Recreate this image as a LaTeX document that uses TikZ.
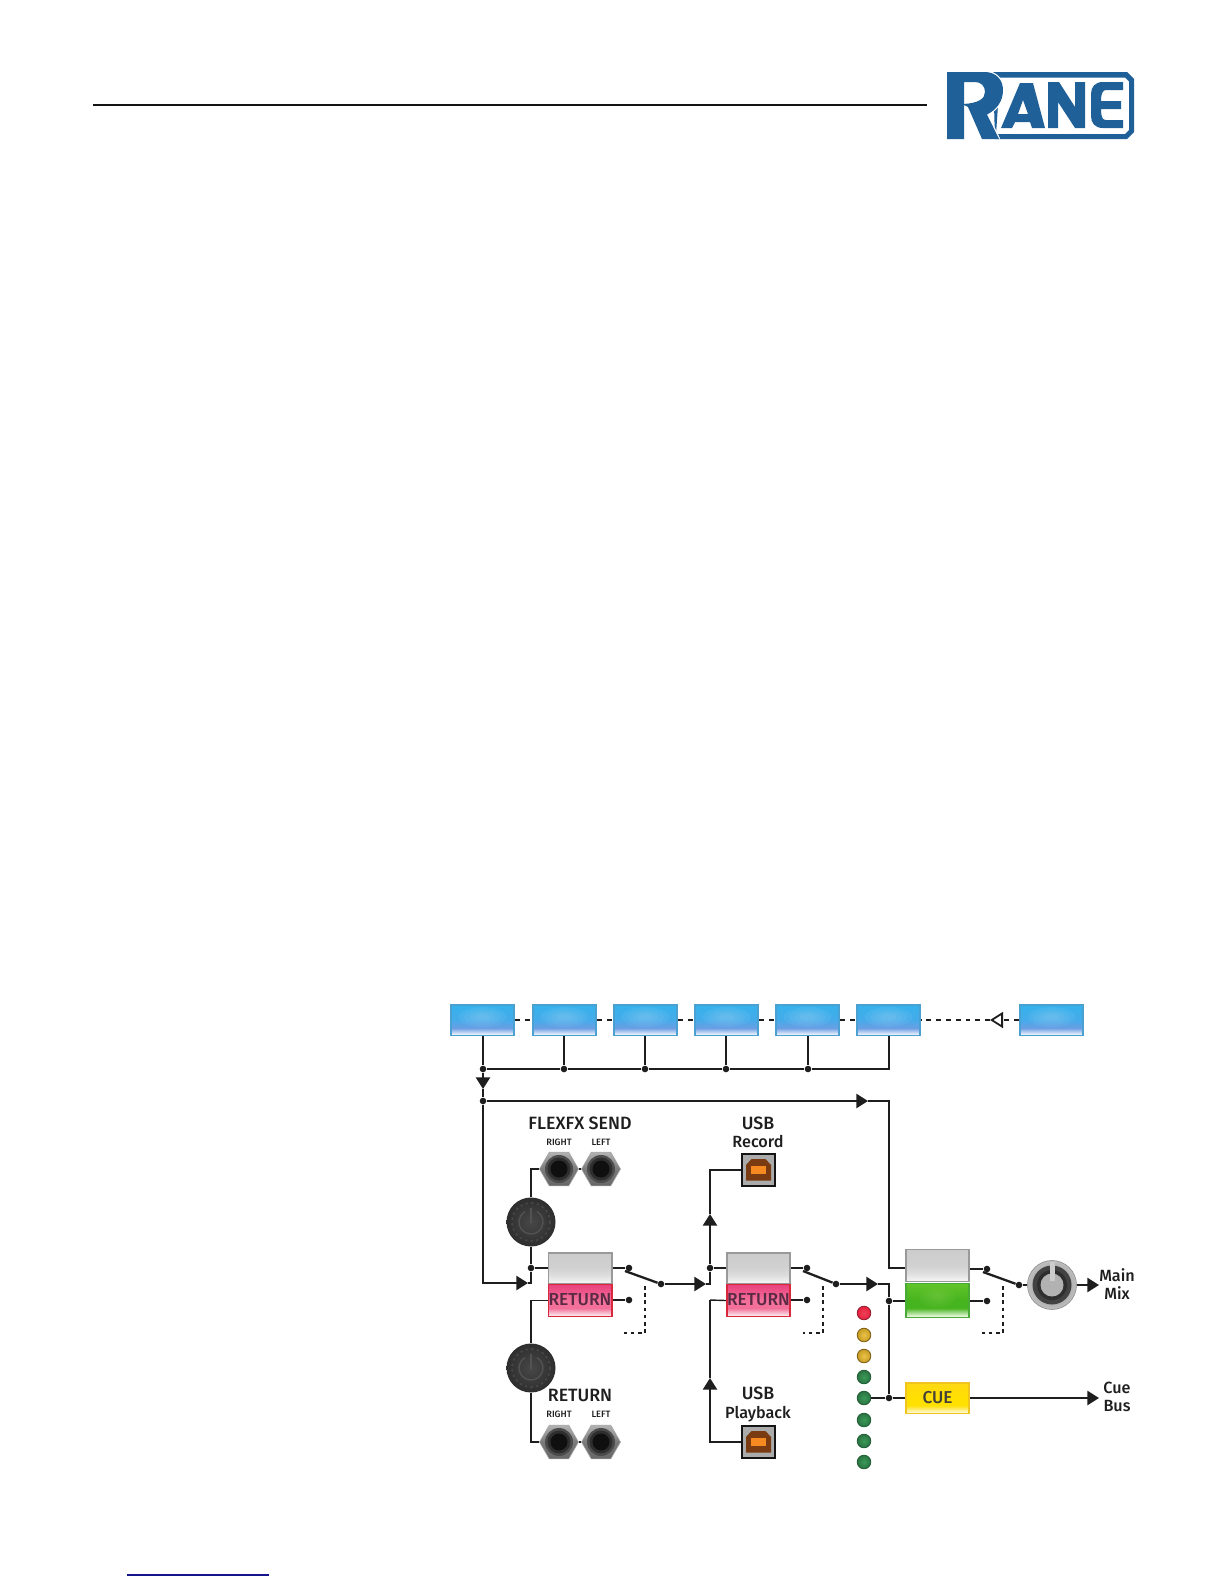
\documentclass[tikz,border=0pt]{standalone}
\usepackage{fontspec}
\setmainfont{Fira Sans Medium}
\usetikzlibrary{arrows.meta,shapes.geometric}
\definecolor{wirec}{HTML}{1E1E1E}
\definecolor{ranec}{HTML}{1F6098}
\definecolor{lnk}{HTML}{14148C}
\definecolor{bluet}{HTML}{35B2EC}\definecolor{bluem}{HTML}{45ABEA}\definecolor{bluel}{HTML}{6A9EE4}\definecolor{blueb}{HTML}{E8EEFA}\definecolor{blueedge}{HTML}{4BA0D2}
\pgfdeclareverticalshading{blueshade}{100bp}{color(0bp)=(blueb);color(27bp)=(blueb);color(37bp)=(bluel);color(50bp)=(bluem);color(75bp)=(bluet);color(100bp)=(bluet)}
\pgfdeclareverticalshading{grayshade}{100bp}{color(0bp)=(white);color(26bp)=(white!96!black);color(38bp)=(black!13);color(50bp)=(black!18);color(75bp)=(black!20);color(100bp)=(black!20)}
\definecolor{pinkt}{HTML}{E9427E}\definecolor{pinkm}{HTML}{F2709A}\definecolor{pinkb}{HTML}{FBE4EA}
\pgfdeclareverticalshading{pinkshade}{100bp}{color(0bp)=(pinkb);color(27bp)=(pinkb);color(38bp)=(pinkm);color(50bp)=(pinkm);color(75bp)=(pinkt);color(100bp)=(pinkt)}
\definecolor{greent}{HTML}{62C42A}\definecolor{greenm}{HTML}{46B41E}\definecolor{greenb}{HTML}{E8F8DC}\definecolor{greenedge}{HTML}{4AAA38}
\pgfdeclareverticalshading{greenshade}{100bp}{color(0bp)=(greenb);color(27bp)=(greenb);color(39bp)=(greenm);color(50bp)=(greenm);color(75bp)=(greent);color(100bp)=(greent)}
\definecolor{yelt}{HTML}{FFD814}\definecolor{yelm}{HTML}{FFE000}\definecolor{yelb}{HTML}{FFF6D0}\definecolor{yeledge}{HTML}{F0C420}
\pgfdeclareverticalshading{yelshade}{100bp}{color(0bp)=(yelb);color(27bp)=(yelb);color(38bp)=(yelm);color(50bp)=(yelm);color(75bp)=(yelt);color(100bp)=(yelt)}
\definecolor{retc}{HTML}{5A2A44}\definecolor{pinkedge}{HTML}{D8283C}
\definecolor{brownc}{HTML}{7A3A12}\definecolor{orangec}{HTML}{F58A20}
\definecolor{redl}{HTML}{E8203C}\definecolor{redd}{HTML}{8E1A2C}
\definecolor{ambl}{HTML}{E8B828}\definecolor{ambd}{HTML}{7A5A14}
\definecolor{grnl}{HTML}{3A9A58}\definecolor{grnd}{HTML}{1E5A34}
\tikzset{
 wire/.style={draw=wirec,line width=1.15bp,line join=miter},
 thinw/.style={draw=wirec,line width=.7bp},
 ctl/.style={draw=wirec,line width=1bp,dash pattern=on 2.4bp off 2.5bp},
 ctlb/.style={draw=wirec,line width=.9bp,dash pattern=on 1.8bp off 1.8bp},
 arr/.style={-{Triangle[length=5.8bp,width=7bp]}},
 btn/.style={rectangle,inner sep=0pt,minimum width=31.6bp,minimum height=15.4bp,line width=.9bp},
 bluebtn/.style={btn,shade,shading=blueshade,draw=blueedge},
 graybtn/.style={btn,shade,shading=grayshade,draw=black!40},
 pinkbtn/.style={btn,shade,shading=pinkshade,draw=pinkedge,minimum height=16bp},
 greenbtn/.style={btn,shade,shading=greenshade,draw=greenedge,minimum height=17bp},
 cuebtn/.style={btn,shade,shading=yelshade,draw=yeledge},
 dot/.style={circle,fill=wirec,inner sep=0pt,minimum size=3.3bp},
 lab/.style={text=wirec,inner sep=0pt,font=\fontsize{8.9bp}{9.2bp}\selectfont,align=center},
 tiny/.style={text=wirec,inner sep=0pt,font=\fontsize{4.6bp}{5bp}\selectfont},
 hexjack/.style={regular polygon,regular polygon sides=6,inner sep=0pt,minimum size=19.5bp,top color=black!30,bottom color=black!60,middle color=black!52,draw=black!35,line width=.3bp},
 knobc/.style={circle,inner sep=0pt,minimum size=24.5bp,inner color=black!72,outer color=black!82},
 mknob/.style={circle,inner sep=0pt,minimum size=24.5bp,inner color=black!50,outer color=black!25,draw=black!45,line width=.3bp},
 ledc/.style={circle,inner sep=0pt,minimum size=6.8bp,line width=.4bp},
 ledred/.style={ledc,draw=redd,inner color=redl!85!white,outer color=redl},
 ledamb/.style={ledc,draw=ambd,inner color=ambl!85!white,outer color=ambl!85!black},
 ledgrn/.style={ledc,draw=grnd,inner color=grnl,outer color=grnl!75!black},
 usbc/.style={rectangle,inner sep=0pt,minimum width=16.4bp,minimum height=16.2bp,fill=black!33,draw=black!92,line width=.9bp},
}
\newcommand{\jackin}[1]{\fill[black!70] (#1.center) circle (14);\fill[black!82] (#1.center) circle (11.5);\fill[black!94] (#1.center) circle (8.5);}
\newcommand{\powicon}[1]{\draw[black!68,line width=.7bp] ([shift={(-60:12)}]#1.center) arc (-60:240:12);\draw[black!68,line width=.7bp] ([shift={(0,-14)}]#1.center) -- ([shift={(0,1)}]#1.center);\draw[black!72,line width=.8bp,dash pattern=on 1.2bp off 1.6bp] (#1.center) circle (19);}
\newcommand{\usbin}[1]{\fill[brownc] ([shift={(-12.5,10.5)}]#1.center) -- ([shift={(12.5,10.5)}]#1.center) -- ([shift={(12.5,-5)}]#1.center) -- ([shift={(7,-11)}]#1.center) -- ([shift={(-7,-11)}]#1.center) -- ([shift={(-12.5,-5)}]#1.center) -- cycle;\fill[orangec] ([shift={(-7.5,-4)}]#1.center) rectangle ([shift={(7.5,4)}]#1.center);}
\newcommand{\glow}[3][white]{\foreach \r in {1,.78,.55,.33}{\fill[#1,opacity=.05] ([yshift=1.5bp]#2.center) ellipse ({\r*#3} and {\r*10});}}
\newcommand{\lc}{\fontsize{8.1bp}{9.2bp}\selectfont}
\begin{document}
\begin{tikzpicture}[x=.5bp,y=-.5bp]
\useasboundingbox (0,0) rectangle (1224,1584);
\fill[white] (0,0) rectangle (1224,1584);
% header rule and link rule
\draw[black!92,line width=1bp] (93,104.5) -- (927,104.5);
\draw[lnk,line width=.7bp] (127,1575) -- (269,1575);
% logo
\fill[ranec,even odd rule] (993,72) -- (1127,72) -- (1134,79) -- (1134,132) -- (1127,139) -- (995,139) -- cycle
 (1000,77.5) -- (1125,77.5) -- (1129,81.5) -- (1129,130) -- (1125,134) -- (996,134) -- cycle;
\draw[white,line width=1.2bp] (985,72) .. controls (996,72) and (1003,80) .. (1003,90) .. controls (1003,102) and (996,110) .. (987,114.5) -- (999,139);
\fill[ranec,even odd rule] (947,72) -- (985,72) .. controls (996,72) and (1003,80) .. (1003,90) .. controls (1003,102) and (996,110) .. (987,114.5) -- (999,139) -- (982,139) -- (968,107) -- (964,105) -- (964,139) -- (947,139) -- cycle
 (964,82) -- (975,82) .. controls (981,82) and (985,86) .. (985,92) .. controls (985,99) and (978,103) .. (964,104) -- cycle;
\fill[ranec,even odd rule] (1001,128) -- (1012,128) -- (1015,122) -- (1030,122) -- (1032,128) -- (1045,128) -- (1033,83) -- (1020,83) -- cycle (1023,100) -- (1018,114) -- (1028,114) -- cycle;
\fill[ranec] (1048,82) -- (1059,82) -- (1075,107) -- (1075,82) -- (1085,82) -- (1085,128) -- (1075,128) -- (1058,102) -- (1058,128) -- (1048,128) -- cycle;
\fill[ranec] (1123,82) -- (1103,82) .. controls (1095,82) and (1091,87) .. (1091,94) -- (1091,116) .. controls (1091,123) and (1095,128) .. (1103,128) -- (1123,128) -- (1123,120) -- (1106,120) .. controls (1103,120) and (1101,118) .. (1101,109) -- (1121,109) -- (1121,101) -- (1101,101) .. controls (1101,93) and (1103,90) .. (1106,90) -- (1123,90) -- cycle;
% blue buttons
\node[bluebtn] (b1) at (482.5,1020) {};
\node[bluebtn] (b2) at (564.5,1020) {};
\node[bluebtn] (b3) at (645.5,1020) {};
\node[bluebtn] (b4) at (726.5,1020) {};
\node[bluebtn] (b5) at (807.5,1020) {};
\node[bluebtn] (b6) at (888.5,1020) {};
\node[bluebtn] (b7) at (1051.5,1020) {};
\foreach \b in {b1,b2,b3,b4,b5,b6,b7}{\glow{\b}{24}}
% channel buttons
\node[graybtn] (g1) at (580,1268) {};
\node[graybtn] (g2) at (758.5,1268) {};
\node[graybtn,minimum height=16bp] (g3) at (937.5,1265.5) {};
\node[pinkbtn] (r1) at (580,1300.5) {};
\node[pinkbtn] (r2) at (758.5,1300.5) {};
\node[greenbtn] (gr) at (937.5,1300.5) {};
\glow[yellow!50!green!50!white]{gr}{18}
\node[cuebtn] (cue) at (937.5,1398) {};
\node[text=retc,inner sep=0pt,font=\fontsize{8.7bp}{9bp}\selectfont] (r1t) at (580,1300) {RETURN};
\node[text=retc,inner sep=0pt,font=\fontsize{8.7bp}{9bp}\selectfont] (r2t) at (758.5,1300) {RETURN};
\node[text=black!85!yellow,inner sep=0pt,font=\fontsize{8.6bp}{9bp}\selectfont] (cuet) at (937.5,1397.5) {CUE};
% knobs
\node[knobc] (k1) at (531,1222) {};
\node[knobc] (k2) at (531,1368) {};
\powicon{k1}\powicon{k2}
\node[mknob] (k3) at (1052,1285) {};
\fill[black!74] (k3.center) circle (19.5);
\fill[black!82] (k3.center) circle (15);
\fill[black!30] (k3.center) circle (11.5);
\fill[black!20] (1049.5,1262) rectangle (1054.5,1281);
% jacks
\node[hexjack] (jr1) at (559,1169) {};
\node[hexjack] (jl1) at (601,1169) {};
\node[hexjack] (jr2) at (559,1442) {};
\node[hexjack] (jl2) at (601,1442) {};
\jackin{jr1}\jackin{jl1}\jackin{jr2}\jackin{jl2}
% usb
\node[usbc] (u1) at (758.5,1170) {};
\node[usbc] (u2) at (758.5,1442) {};
\usbin{u1}\usbin{u2}
% LEDs
\node[ledred] (l1) at (864,1313) {};
\node[ledamb] (l2) at (864,1335) {};
\node[ledamb] (l3) at (864,1356) {};
\node[ledgrn] (l4) at (864,1377) {};
\node[ledgrn] (l5) at (864,1398) {};
\node[ledgrn] (l6) at (864,1420) {};
\node[ledgrn] (l7) at (864,1441) {};
\node[ledgrn] (l8) at (864,1462) {};
% junctions
\node[dot] (j1) at (483,1069) {};
\node[dot] (j2) at (564,1069) {};
\node[dot] (j3) at (645,1069) {};
\node[dot] (j4) at (726,1069) {};
\node[dot] (j5) at (808,1069) {};
\coordinate (jc) at (889,1069);
\node[dot] (j7) at (483,1101) {};
\node[dot] (d1) at (531,1268) {};
\node[dot] (d2) at (710,1268) {};
\node[dot] (d3) at (889,1301) {};
\node[dot] (d4) at (889,1398) {};
\node[dot] (s1t) at (629,1268) {};
\node[dot] (s1b) at (629,1300) {};
\node[dot] (s1p) at (661,1284) {};
\node[dot] (s2t) at (807,1268) {};
\node[dot] (s2b) at (807,1300) {};
\node[dot] (s2p) at (836,1284) {};
\node[dot] (s3t) at (987,1269) {};
\node[dot] (s3b) at (987,1301) {};
\node[dot] (s3p) at (1019,1285) {};
% free points
\coordinate (a1) at (483,1089);
\coordinate (a2) at (868,1101);
\coordinate (a3) at (528,1283);
\coordinate (a4) at (706,1284);
\coordinate (a5) at (710,1214);
\coordinate (a6) at (710,1378);
\coordinate (a7) at (878,1284);
\coordinate (mainout) at (1099,1285);
\coordinate (cueout) at (1099,1398);
\coordinate (tri) at (990,1020);
% top bus
\draw[wire] (b1.south -| j1) -- (j1);
\draw[wire] (b2.south -| j2) -- (j2);
\draw[wire] (b3.south -| j3) -- (j3);
\draw[thinw] (b4.south -| j4) -- (j4);
\draw[wire] (b5.south -| j5) -- (j5);
\draw[wire] (b6.south -| jc) -- (jc) -- (j5) -- (j4) -- (j3) -- (j2) -- (j1);
\draw[wire,arr] (j1) -- (a1);
\draw[wire] (a1) -- (j7);
\draw[wire,arr] (j7) -- (a2);
\draw[wire] (a2) -- (889,1101) -- (889,1268) -- (g3.west |- 0,1268);
\draw[wire,arr] (j7) |- (a3);
\draw[wire] (a3) -- (531,1283) -- (d1);
% chain
\foreach \p/\q in {b1/b2,b2/b3,b3/b4,b4/b5,b5/b6}{\draw[ctl] (\p.east) -- (\q.west);}
\draw[ctl,-{Triangle[open,fill=white,length=6.5bp,width=8bp,line width=.9bp]}] (b7.west) -- (tri);
\draw[ctl] (tri) -- (b6.east);
% channel 1
\draw[thinw] (d1) -- (k1.south);
\draw[thinw] (k1.north) |- (jr1.west);
\draw[thinw] (jr1.east) -- (jl1.west);
\draw[wire] (d1) -- (g1.west |- d1);
\draw[thinw] (r1.west) -| (k2.north);
\draw[thinw] (k2.south) |- (jr2.west);
\draw[thinw] (jr2.east) -- (jl2.west);
\draw[wire] (g1.east |- s1t) -- (s1t);
\draw[thinw] (r1.east |- s1b) -- (s1b);
\draw[wire] (625,1271) -- (s1p);
\draw[wire,arr] (s1p) -- (a4);
\draw[wire] (a4) -- (710,1284) -- (d2);
\draw[ctlb] (645,1286) -- (645,1333) -- (622,1333);
% channel 2
\draw[wire] (d2) -- (g2.west |- d2);
\draw[wire,arr] (d2) -- (a5);
\draw[wire] (a5) |- (u1.west);
\draw[wire,arr] (u2.west) -| (a6);
\draw[wire] (a6) -- (710,1300);
\draw[thinw] (710,1300) -- (r2.west);
\draw[wire] (g2.east |- s2t) -- (s2t);
\draw[thinw] (r2.east |- s2b) -- (s2b);
\draw[wire] (803,1271) -- (s2p);
\draw[wire,arr] (s2p) -- (a7);
\draw[wire] (a7) -- (889,1284) -- (d3);
\draw[wire] (d3) -- (d4);
\draw[thinw] (d3) -- (gr.west |- d3);
\draw[wire] (d4) -- (cue.west);
\draw[thinw] (l5.east) -- (d4);
\draw[ctlb] (823,1286) -- (823,1333) -- (803,1333);
% master
\draw[wire] (g3.east |- s3t) -- (s3t);
\draw[thinw] (gr.east |- s3b) -- (s3b);
\draw[wire] (983,1272) -- (s3p);
\draw[wire] (s3p) -- (k3.west);
\draw[wire,arr] (k3.east) -- (mainout);
\draw[wire,arr] (cue.east) -- (cueout);
\draw[ctlb] (1003,1286) -- (1003,1333) -- (981,1333);
% labels
\node[lab] (t1) at (580,1123) {FLEXFX SEND};
\node[tiny] (t2) at (559,1142) {RIGHT};
\node[tiny] (t3) at (601,1142) {LEFT};
\node[lab] (t4) at (758,1132.5) {USB\\{\lc Record}};
\node[lab] (t5) at (580,1395) {RETURN};
\node[tiny] (t6) at (559,1414) {RIGHT};
\node[tiny] (t7) at (601,1414) {LEFT};
\node[lab] (t8) at (758,1404.5) {USB\\{\lc Playback}};
\node[lab,font=\lc] (t9) at (1117,1284) {Main\\Mix};
\node[lab,font=\lc] (t10) at (1117,1397) {Cue\\Bus};
\end{tikzpicture}
\end{document}
